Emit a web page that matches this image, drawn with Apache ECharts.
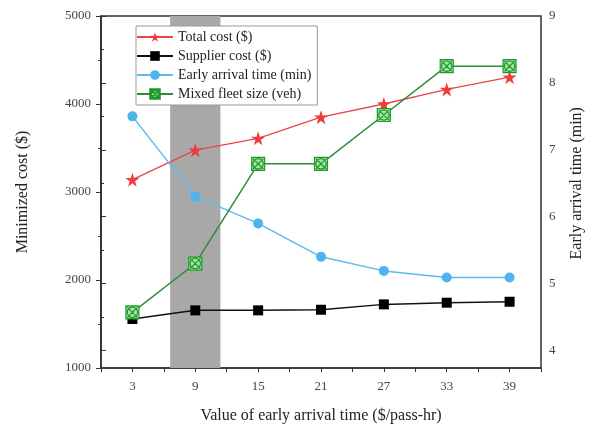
<!DOCTYPE html>
<html lang="en">
<head>
    <meta charset="UTF-8">
    <title>Early arrival cost chart</title>
    <script type="text/javascript" src="https://cdn.jsdelivr.net/npm/echarts@6/dist/echarts.min.js"></script>
</head>
<body style="margin:0">
<div id="main" style="width:602px;height:429px;"></div>
<script type="text/javascript">
    const myChart = echarts.init(document.getElementById('main'));

    // x values ($/pass-hr)
    const xValues = [3, 9, 15, 21, 27, 33, 39];
    // left axis ($)
    const totalCost = [3140, 3475, 3610, 3850, 4000, 4165, 4305];
    const supplierCost = [1557, 1655, 1655, 1662, 1723, 1742, 1753];
    // right axis (min)
    const earlyArrival = [7.5, 6.3, 5.9, 5.4, 5.19, 5.09, 5.09];
    const fleetSize = [4.57, 5.3, 6.79, 6.79, 7.52, 8.25, 8.25];
    // shaded band on x
    const band = [6.6, 11.4];

    const font = 'Liberation Serif';
    const pair = (arr) => xValues.map((x, i) => [x, arr[i]]);
    const boxSymbol = 'path://M0,0H20V20H0Z M10,2A8,8 0 1,1 9.99,2Z M2,2L18,18 M18,2L2,18';

    const xCommon = {
        type: 'value',
        min: 0,
        max: 42,
        interval: 3,
        splitLine: {show: false}
    };

    const option = {
        backgroundColor: '#fff',
        textStyle: {fontFamily: font},
        grid: [
            {left: 101, right: 61, top: 16, bottom: 59, show: true, borderColor: '#333', borderWidth: 1.5},
            {left: 101, right: 61, top: 16, bottom: 78.5}
        ],
        legend: {
            orient: 'vertical',
            left: 136,
            top: 26,
            padding: [4, 6, 4, 0],
            itemGap: 5,
            itemWidth: 36,
            itemHeight: 12,
            borderColor: '#999',
            borderWidth: 1,
            backgroundColor: '#fff',
            textStyle: {fontFamily: font, fontSize: 14, color: '#222'},
            data: ['Total cost ($)', 'Supplier cost ($)', 'Early arrival time (min)', 'Mixed fleet size (veh)']
        },
        xAxis: [
            Object.assign({}, xCommon, {
                gridIndex: 0,
                name: 'Value of early arrival time ($/pass-hr)',
                nameLocation: 'middle',
                nameGap: 40,
                nameTextStyle: {fontFamily: font, fontSize: 16, color: '#222'},
                axisLine: {lineStyle: {color: '#333', width: 1.5}},
                axisTick: {length: 4, lineStyle: {color: '#333'}},
                axisLabel: {
                    margin: 12,
                    fontFamily: font,
                    fontSize: 13,
                    color: '#444',
                    formatter: (v) => ((v - 3) % 6 === 0 ? String(v) : '')
                }
            }),
            Object.assign({}, xCommon, {gridIndex: 1, show: false})
        ],
        yAxis: [
            {
                type: 'value',
                gridIndex: 0,
                min: 1000,
                max: 5000,
                interval: 1000,
                name: 'Minimized cost ($)',
                nameLocation: 'middle',
                nameGap: 70,
                nameRotate: 90,
                nameTextStyle: {fontFamily: font, fontSize: 16, color: '#222'},
                splitLine: {show: false},
                axisLine: {show: true, lineStyle: {color: '#333', width: 1.5}},
                axisTick: {length: 5, lineStyle: {color: '#333'}},
                minorTick: {show: true, splitNumber: 2, length: 3, lineStyle: {color: '#333'}},
                axisLabel: {margin: 10, fontFamily: font, fontSize: 13, color: '#444', formatter: (v) => String(v)}
            },
            {
                type: 'value',
                gridIndex: 1,
                position: 'right',
                min: 4,
                max: 9,
                interval: 1,
                name: 'Early arrival time (min)',
                nameLocation: 'middle',
                nameGap: 28,
                nameRotate: 90,
                nameTextStyle: {fontFamily: font, fontSize: 16, color: '#222'},
                splitLine: {show: false},
                axisLine: {show: true, lineStyle: {color: '#333', width: 1.5}},
                axisTick: {length: 5, lineStyle: {color: '#333'}},
                minorTick: {show: true, splitNumber: 2, length: 3, lineStyle: {color: '#333'}},
                axisLabel: {margin: 8, fontFamily: font, fontSize: 13, color: '#444'}
            }
        ],
        series: [
            {
                name: 'Total cost ($)',
                type: 'line',
                xAxisIndex: 0,
                yAxisIndex: 0,
                data: pair(totalCost),
                symbol: 'path://M10,0L12.35,7.2L20,7.2L13.8,11.7L16.2,19L10,14.5L3.8,19L6.2,11.7L0,7.2L7.65,7.2Z',
                symbolSize: 14,
                itemStyle: {color: '#ee3b3b'},
                lineStyle: {color: '#e8474a', width: 1.3},
                markArea: {
                    silent: true,
                    itemStyle: {color: '#a8a8a8'},
                    data: [[{xAxis: band[0]}, {xAxis: band[1]}]]
                }
            },
            {
                name: 'Supplier cost ($)',
                type: 'line',
                xAxisIndex: 0,
                yAxisIndex: 0,
                data: pair(supplierCost),
                symbol: 'rect',
                symbolSize: 10,
                itemStyle: {color: '#000'},
                lineStyle: {color: '#111', width: 1.5}
            },
            {
                name: 'Early arrival time (min)',
                type: 'line',
                xAxisIndex: 1,
                yAxisIndex: 1,
                data: pair(earlyArrival),
                symbol: 'circle',
                symbolSize: 10,
                itemStyle: {color: '#4fb4ee'},
                lineStyle: {color: '#5cbbef', width: 1.5}
            },
            {
                name: 'Mixed fleet size (veh)',
                type: 'line',
                xAxisIndex: 1,
                yAxisIndex: 1,
                data: pair(fleetSize),
                symbol: boxSymbol,
                symbolSize: 13,
                symbolKeepAspect: true,
                itemStyle: {color: '#a6e3a6', borderColor: '#1f9a2a', borderWidth: 1.2},
                lineStyle: {color: '#2e8b3a', width: 1.5}
            }
        ]
    };

    myChart.setOption(option);
</script>
</body>
</html>
